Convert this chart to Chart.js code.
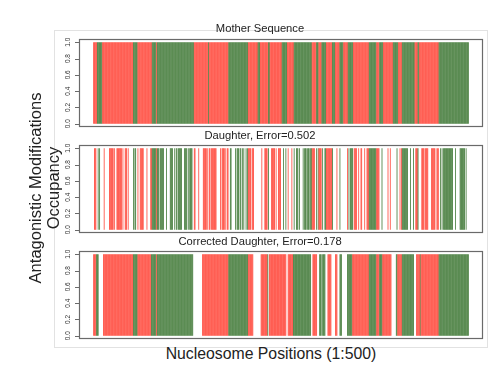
<!DOCTYPE html>
<html>
<head>
<meta charset="utf-8">
<script src="https://cdn.jsdelivr.net/npm/chart.js@4.4.1/dist/chart.umd.min.js"></script>
<style>
  html,body{margin:0;padding:0;background:#fff;}
  #wrap{position:relative;width:499px;height:371px;overflow:hidden;background:#fff;
        font-family:"Liberation Sans",Arial,Helvetica,sans-serif;color:#222;}
  .frame{position:absolute;left:54px;top:30px;width:432px;height:316px;border:1px solid #e2e2e2;}
  canvas{position:absolute;left:0;}
  .lbl{position:absolute;white-space:nowrap;transform:translate(-50%,-50%);line-height:1;}
  .rot{transform:translate(-50%,-50%) rotate(-90deg);}
</style>
</head>
<body>
<div id="wrap">
  <div class="frame"></div>
  <canvas id="c0"></canvas>
  <canvas id="c1"></canvas>
  <canvas id="c2"></canvas>
  <div class="lbl" id="t0" style="font-size:11.2px"></div>
  <div class="lbl" id="t1" style="font-size:11.2px"></div>
  <div class="lbl" id="t2" style="font-size:11.2px"></div>
  <div class="lbl rot" id="yl1" style="left:35px;top:188px;font-size:16.5px"></div>
  <div class="lbl rot" id="yl2" style="left:53px;top:188px;font-size:16.5px"></div>
  <div class="lbl" id="xl" style="left:271px;top:354px;font-size:15.8px"></div>
</div>
<script>
// ---------------- data ----------------
const panelTitles = ["Mother Sequence", "Daughter, Error=0.502", "Corrected Daughter, Error=0.178"];
const yAxisLines = ["Antagonistic Modifications", "Occupancy"];
const xAxisTitle = "Nucleosome Positions (1:500)";
const yTicks = [0, 0.2, 0.4, 0.6, 0.8, 1.0];
const yTickLabels = ["0.0", "0.2", "0.4", "0.6", "0.8", "1.0"];
const occupancy = 1.0; // every drawn bar reaches 1.0

// Mother sequence: runs of state (R = red mark, G = green mark), 500 nucleosomes
const motherRuns = [
  ['R',5],['G',7],['R',41],['G',6],['R',19],['G',6],['R',1],['G',49],['R',19],['G',1],
  ['R',26],['G',26],['R',13],['G',3],['R',11],['G',2],['R',16],['G',7],['R',9],['G',24],
  ['R',6],['G',3],['R',4],['G',6],['R',8],['G',4],['R',6],['G',5],['R',6],['G',7],
  ['R',21],['G',10],['R',4],['G',5],['R',13],['G',7],['R',5],['G',17],['R',4],['G',2],
  ['R',26],['G',40]
];

// Daughter: nucleosome ranges (inclusive) that kept their mark; others are empty
const daughterKept = [
  [1,3],[6,6],[8,8],[14,14],[21,26],[28,28],[31,37],[39,39],[42,44],[46,46],
  [53,53],[55,56],[59,59],[62,66],[71,71],[76,87],[89,93],[97,97],[102,105],[108,108],
  [110,111],[113,117],[121,124],[126,126],[128,131],[134,135],[140,140],[146,150],[152,152],[154,155],
  [157,163],[169,169],[171,174],[176,176],[178,179],[182,183],[189,189],[191,193],[195,196],[198,198],
  [200,200],[203,203],[205,209],[211,213],[224,224],[228,231],[233,233],[237,241],[243,243],[246,249],
  [253,253],[256,256],[259,259],[264,264],[267,267],[270,272],[274,274],[279,279],[281,283],[285,287],
  [289,294],[297,297],[299,303],[305,305],[308,318],[324,324],[328,328],[338,338],[340,340],[342,345],
  [347,350],[353,353],[356,357],[361,361],[364,380],[384,384],[392,392],[395,395],[404,404],[408,408],
  [410,418],[422,422],[426,426],[429,432],[437,440],[442,445],[450,454],[456,456],[458,459],[462,462],
  [464,464],[466,478],[482,482],[488,494],[496,496]
];

// Corrected daughter: runs of state (R, G, '.' = empty)
const correctedRuns = [
  ['R',4],['G',3],['.',6],['R',40],['G',6],['R',18],['G',7],['R',1],['G',48],['.',12],
  ['R',35],['G',26],['R',7],['.',10],['R',9],['G',1],['.',1],['R',23],['.',2],['R',7],
  ['G',24],['.',2],['R',6],['.',3],['G',3],['.',1],['G',4],['.',3],['R',5],['.',5],
  ['R',3],['.',3],['G',3],['.',7],['G',7],['R',22],['G',10],['R',4],['G',4],['R',12],
  ['.',6],['G',2],['R',6],['G',16],['.',3],['R',5],['G',1],['R',24],['G',40]
];

// ---------------- decoding ----------------
function expandRuns(runs){ const out=[]; runs.forEach(([s,n])=>{ for(let k=0;k<n;k++) out.push(s); }); return out; }
const motherStates = expandRuns(motherRuns);
const keptFlags = motherStates.map(()=>false);
daughterKept.forEach(([a,b])=>{ for(let i=a;i<=b;i++) keptFlags[i]=true; });
const daughterStates = motherStates.map((s,i)=> keptFlags[i] ? s : '.');
const correctedStates = expandRuns(correctedRuns);

// ---------------- styling ----------------
const RED = 'rgb(255,58,44)';
const GREEN = 'rgb(52,112,42)';
const BOX = '#6a6a6a';
const panelBoxes = [[38.5,126.5],[145,233],[251,339]];
const titleY = [28.5, 135.5, 241.5];
const PAD = 6;

document.getElementById('yl1').textContent = yAxisLines[0];
document.getElementById('yl2').textContent = yAxisLines[1];
document.getElementById('xl').textContent = xAxisTitle;

const framePlugin = {
  id:'framePlugin',
  afterDatasetsDraw(chart){
    const ctx = chart.ctx, a = chart.chartArea, ys = chart.scales.y;
    ctx.save();
    ctx.strokeStyle = BOX; ctx.lineWidth = 1.2;
    ctx.strokeRect(Math.round(a.left)+0.5, Math.round(a.top)+0.5, Math.round(a.right-a.left)-1, Math.round(a.bottom-a.top)-1);
    ctx.lineWidth = 1;
    ctx.fillStyle = '#333';
    ctx.font = '6.5px "Liberation Sans", Arial, sans-serif';
    ctx.textAlign = 'center'; ctx.textBaseline = 'middle';
    yTicks.forEach((v,k)=>{
      const y = ys.getPixelForValue(v);
      ctx.beginPath();
      ctx.moveTo(a.left-4, Math.round(y)+0.5); ctx.lineTo(a.left+0.5, Math.round(y)+0.5);
      ctx.stroke();
      ctx.save();
      ctx.translate(a.left-11, y);
      ctx.rotate(-Math.PI/2);
      ctx.fillText(yTickLabels[k], 0, 0);
      ctx.restore();
    });
    ctx.restore();
  }
};

function makePanel(idx, states){
  const [top,bottom] = panelBoxes[idx];
  const cv = document.getElementById('c'+idx);
  const H = Math.round(bottom-top) + 2*PAD;
  cv.width = 499; cv.height = H;
  cv.style.width='499px'; cv.style.height=H+'px';
  cv.style.top = (top-PAD)+'px';
  const t = document.getElementById('t'+idx);
  t.textContent = panelTitles[idx];
  t.style.left='260px'; t.style.top=titleY[idx]+'px';
  new Chart(cv, {
    type:'bar',
    data:{
      datasets:[{
        data: states.map((s,i)=>({x:i, y: s==='.' ? null : occupancy})),
        backgroundColor: states.map(s=> s==='R' ? RED : GREEN),
        borderWidth:0,
        barPercentage:1,
        categoryPercentage:1,
        inflateAmount:0
      }]
    },
    options:{
      responsive:false, animation:false, devicePixelRatio:1,
      layout:{padding:{left:79, right:16, top:PAD, bottom:PAD}},
      plugins:{legend:{display:false}, title:{display:false}, tooltip:{enabled:false}},
      scales:{
        x:{type:'linear', min:-19.5, max:518.5, offset:false, grace:0, display:false},
        y:{min:-0.04, max:1.04, display:false}
      }
    },
    plugins:[framePlugin]
  });
}
makePanel(0, motherStates);
makePanel(1, daughterStates);
makePanel(2, correctedStates);
</script>
</body>
</html>
